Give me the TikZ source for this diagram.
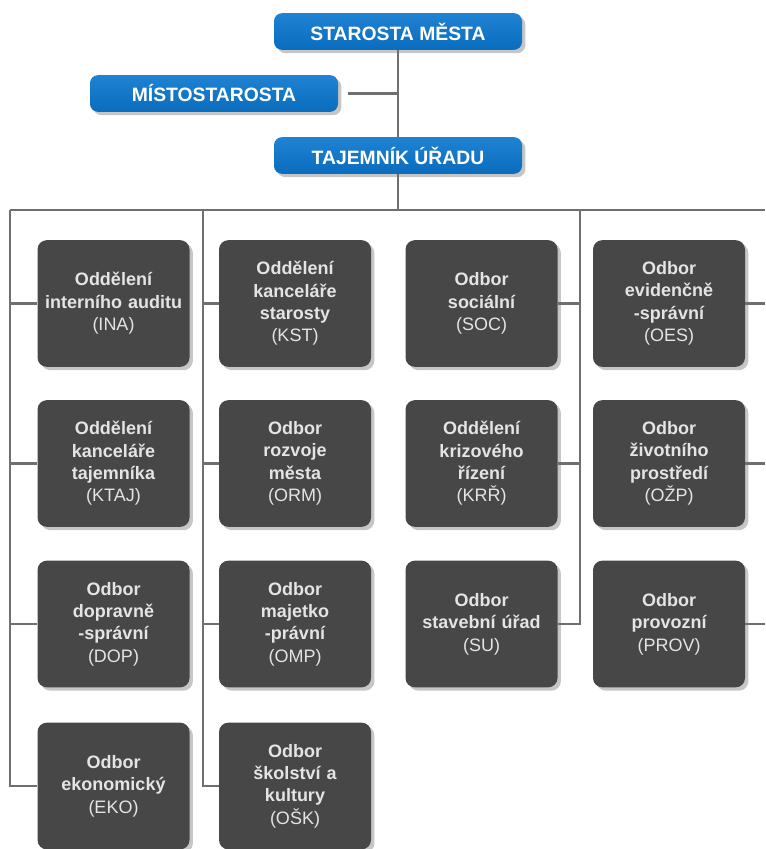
\documentclass[tikz,border=0pt]{standalone}
\usepackage{fontspec}
\setmainfont{Liberation Sans}
\usetikzlibrary{shadows}
\definecolor{headBlue}{HTML}{0A6CBD}
\definecolor{headBlueTop}{HTML}{1F82D2}
\definecolor{unitGray}{HTML}{474747}
\definecolor{unitText}{HTML}{E4E4E4}
\definecolor{linkGray}{HTML}{6F6F6F}

\begin{document}
\begin{tikzpicture}[
  x=0.75pt,
  y=-0.75pt,
  head/.style={
    rectangle,
    rounded corners=6pt,
    minimum width=186pt,
    minimum height=27.5pt,
    top color=headBlueTop,
    bottom color=headBlue,
    text=white,
    font=\fontsize{14.5}{17}\selectfont\bfseries,
    drop shadow={shadow xshift=2.5pt,shadow yshift=-2.5pt,opacity=.45}
  },
  unit/.style={
    rectangle,
    rounded corners=7pt,
    minimum width=114pt,
    minimum height=95pt,
    text width=112pt,
    align=center,
    inner sep=0pt,
    fill=unitGray,
    text=unitText,
    font=\fontsize{13.5}{16.8}\selectfont\bfseries,
    drop shadow={shadow xshift=2.5pt,shadow yshift=-2.5pt,opacity=.45}
  },
  link/.style={
    draw=linkGray,
    line width=2pt
  }
]
\useasboundingbox (0,0) rectangle (765,849);

\node[head] (starosta) at (398,31.5) {STAROSTA MĚSTA};
\node[head] (mistostarosta) at (214,93.5) {MÍSTOSTAROSTA};
\node[head] (tajemnik) at (398,155.5) {TAJEMNÍK ÚŘADU};

\foreach \name/\x/\y/\txt/\abbr in {
  ina/113.5/303.5/{Oddělení\\interního auditu}/INA,
  ktaj/113.5/463.5/{Oddělení\\kanceláře\\tajemníka}/KTAJ,
  dop/113.5/624/{Odbor\\dopravně\\-správní}/DOP,
  eko/113.5/786/{Odbor\\ekonomický}/EKO,
  kst/295/303.5/{Oddělení\\kanceláře\\starosty}/KST,
  orm/295/463.5/{Odbor\\rozvoje\\města}/ORM,
  omp/295/624/{Odbor\\majetko\\-právní}/OMP,
  osk/295/786/{Odbor\\školství a\\kultury}/OŠK,
  soc/481.5/303.5/{Odbor\\sociální}/SOC,
  krr/481.5/463.5/{Oddělení\\krizového\\řízení}/KRŘ,
  su/481.5/624/{Odbor\\stavební úřad}/SU,
  oes/669/303.5/{Odbor\\evidenčně\\-správní}/OES,
  ozp/669/463.5/{Odbor\\životního\\prostředí}/OŽP,
  prov/669/624/{Odbor\\provozní}/PROV}
  \node[unit] (\name) at (\x,\y) {\txt\\{\mdseries(\abbr)}};

\coordinate (busL) at (10,210);
\coordinate (busR) at (765,210);
\coordinate (trunkB) at (203,210);
\coordinate (trunkC) at (580,210);

\draw[link] (starosta) -- (tajemnik);
\draw[link] ([xshift=7pt]mistostarosta.east) -- (mistostarosta.east -| starosta.south);
\draw[link] (tajemnik) -- (tajemnik |- busL);
\draw[link] (busL) -- (busR);
\foreach \b in {ina,ktaj,dop,eko}
  \draw[link] (busL) |- (\b.west);
\foreach \b in {kst,orm,omp,osk}
  \draw[link] (trunkB) |- (\b.west);
\foreach \b in {soc,krr,su}
  \draw[link] (trunkC) |- (\b.east);
\foreach \b in {oes,ozp,prov}
  \draw[link] (\b.east) -- (\b.east -| busR);
\end{tikzpicture}
\end{document}
